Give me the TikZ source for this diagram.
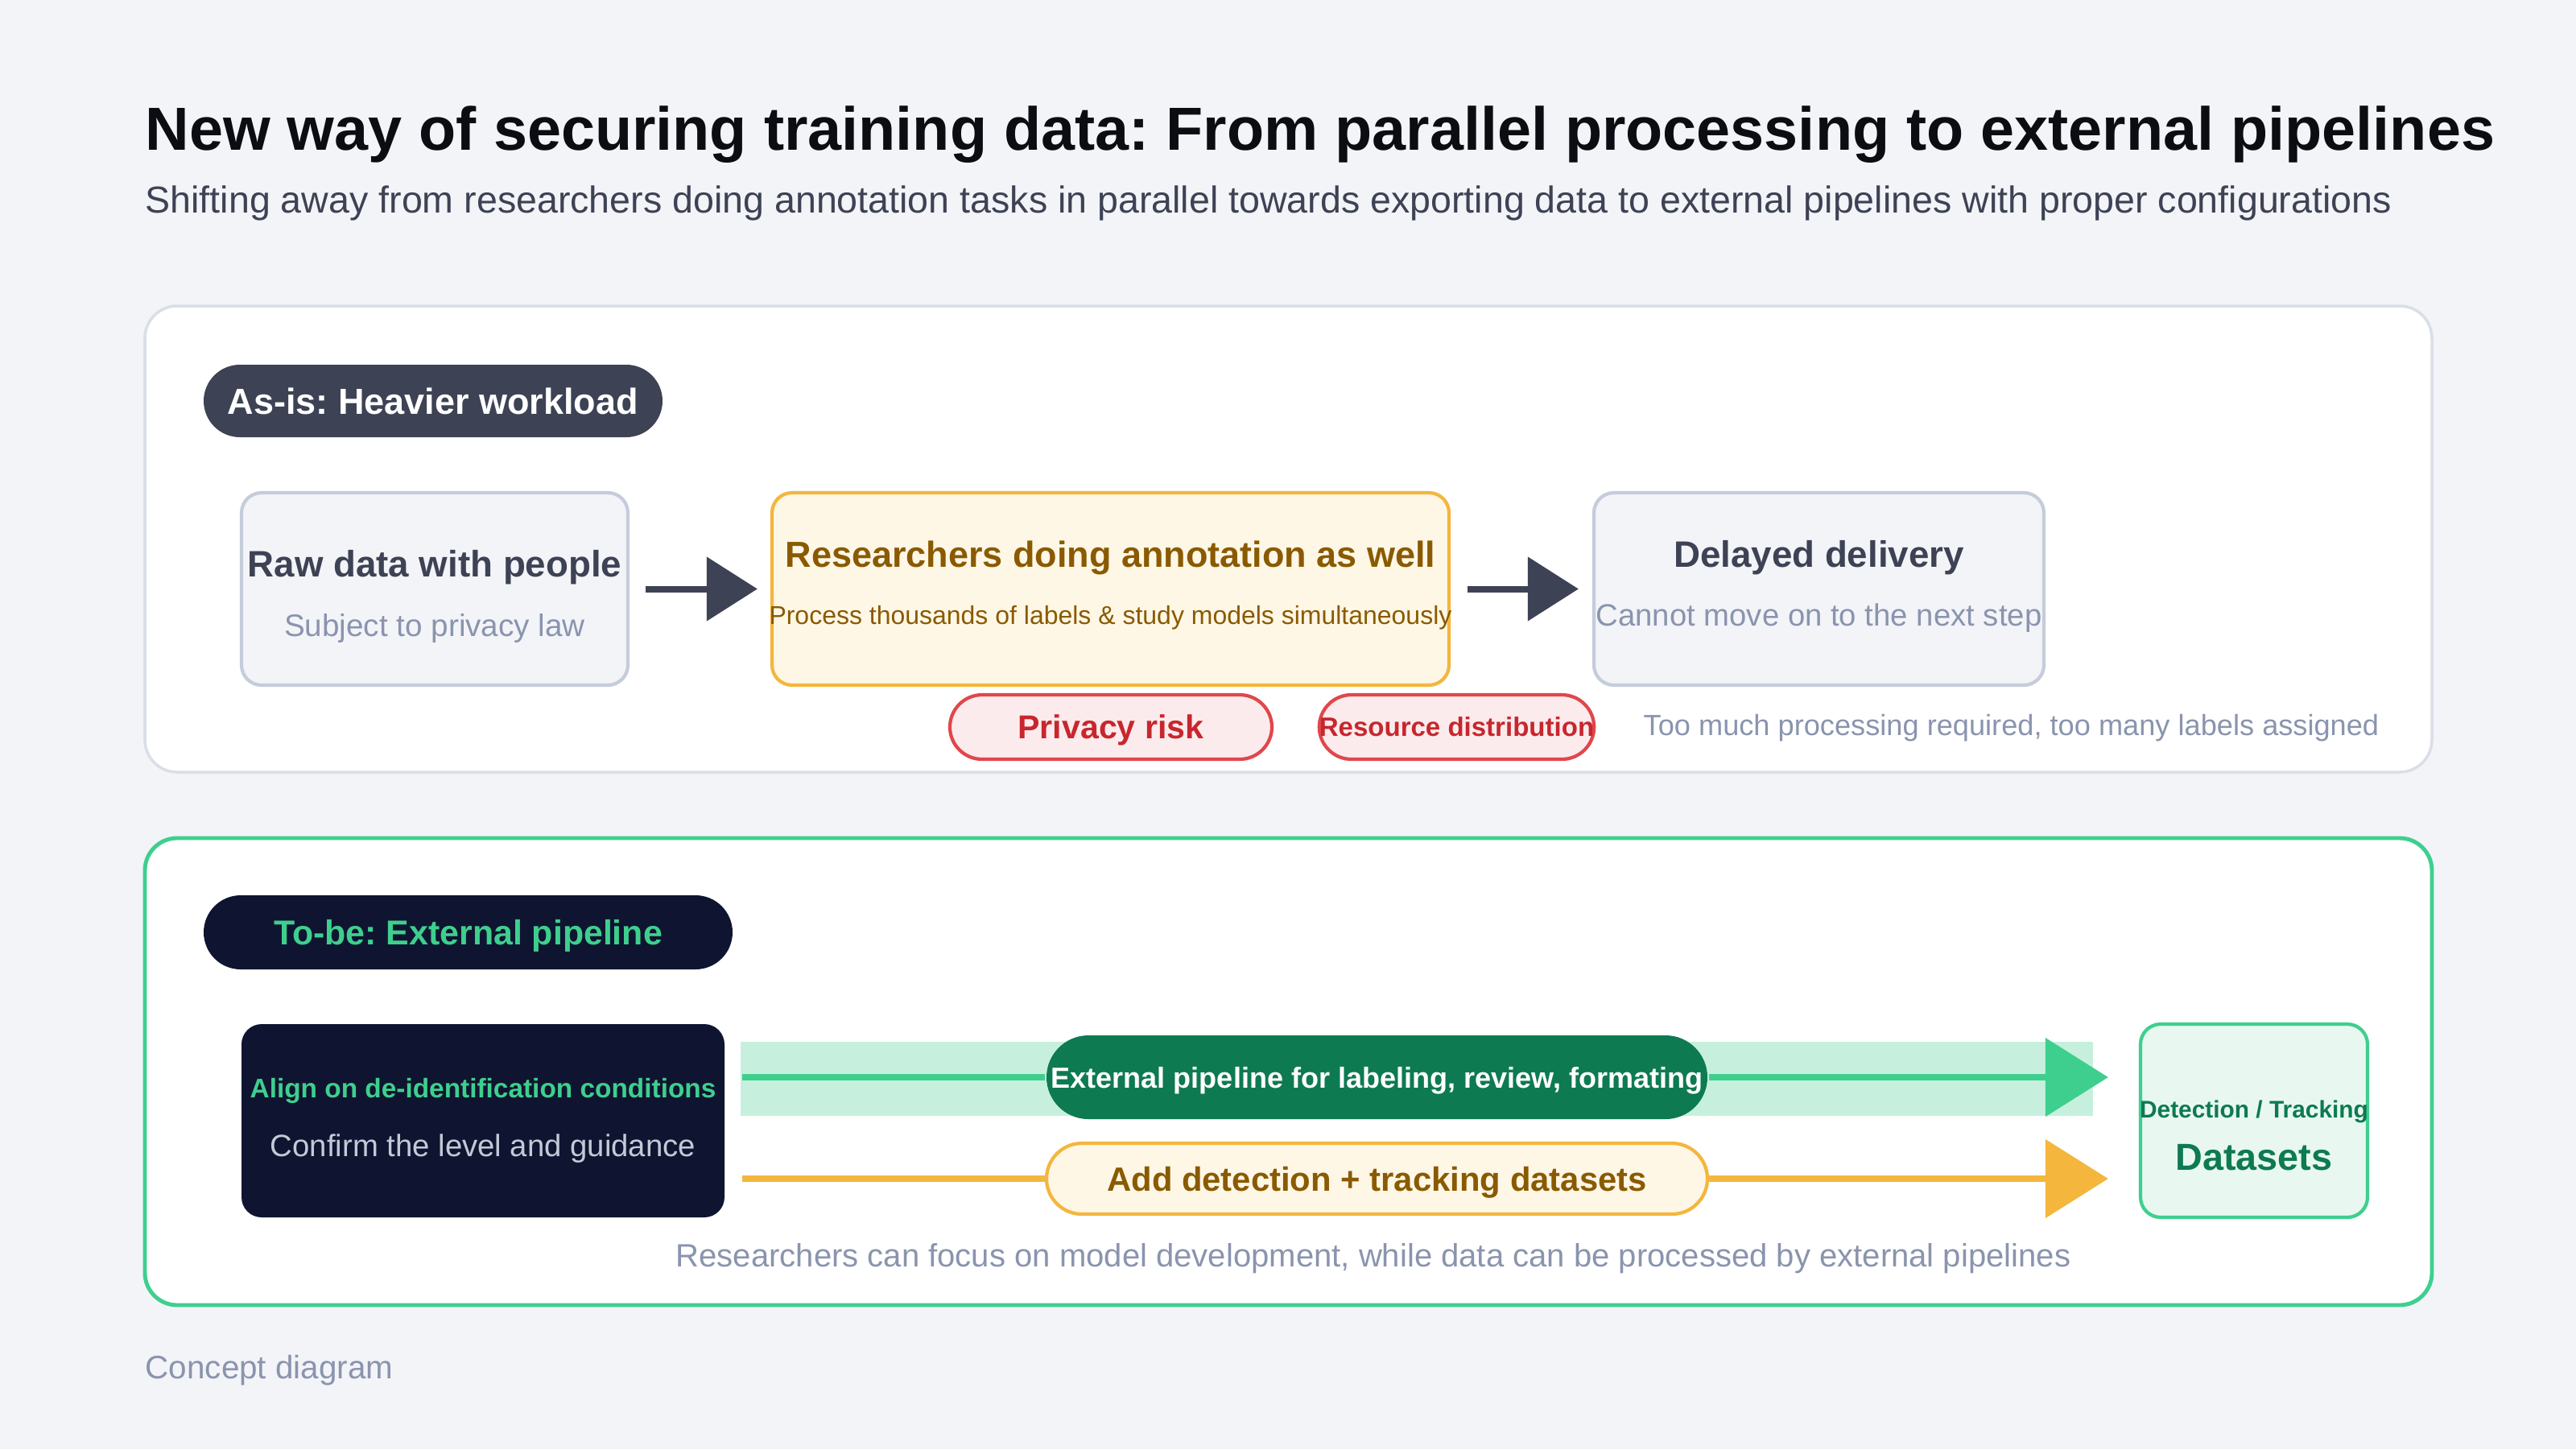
\documentclass[tikz,border=0pt]{standalone}
\usepackage{fontspec}
\setmainfont{Liberation Sans}
\usetikzlibrary{arrows.meta, positioning}

\definecolor{bgc}{HTML}{F3F4F8}
\definecolor{ink}{HTML}{0B0D12}
\definecolor{slate}{HTML}{3D4254}
\definecolor{mute}{HTML}{8A94AE}
\definecolor{panelline}{HTML}{D9DEE7}
\definecolor{grayline}{HTML}{C5CCDA}
\definecolor{amber}{HTML}{F4B63D}
\definecolor{cream}{HTML}{FFF7E6}
\definecolor{brown}{HTML}{8A5A00}
\definecolor{redline}{HTML}{E0474C}
\definecolor{redfill}{HTML}{FCEBEC}
\definecolor{redtext}{HTML}{C8262E}
\definecolor{mint}{HTML}{3ECF8E}
\definecolor{forest}{HTML}{0E7A52}
\definecolor{band}{HTML}{C6F0DD}
\definecolor{datafill}{HTML}{E8F8F0}
\definecolor{navy}{HTML}{0F1530}
\definecolor{fog}{HTML}{C4C9D8}

\newcommand{\fsz}[1]{\fontsize{#1}{#1}\selectfont}
\frenchspacing

\tikzset{
	badge/.style={rounded corners=0.45cm, minimum height=0.9cm, inner sep=0, text depth=0pt, font=\fsz{12.8}\bfseries},
	box/.style={rounded corners=0.25cm, line width=1.2pt, minimum height=2.39cm, inner sep=0},
	graybox/.style={box, draw=grayline, fill=bgc},
	hd/.style={inner sep=0, text depth=0pt, font=\fsz{13}\bfseries},
	txt/.style={inner sep=0, text depth=0pt, font=\fsz{10.9}},
	pill/.style={rounded corners=0.4cm, line width=1.2pt, minimum height=0.8cm, inner sep=0, text depth=0pt, font=\fsz{11.7}\bfseries},
	flow/.style={line width=0.08cm, -{Triangle[length=0.63cm,width=0.78cm]}},
	pipe/.style={line width=0.085cm},
	bigtip/.style={-{Triangle[length=0.78cm,width=0.96cm]}}
}

\begin{document}
\begin{tikzpicture}
	\fill[bgc] (0,0) rectangle (32,-18);
	\useasboundingbox (0,0) rectangle (32,-18);
	
	\node[anchor=base west, inner sep=0, font=\fsz{21.5}\bfseries, text=ink] (title) at (1.8,-1.86) {New way of securing training data: From parallel processing to external pipelines};
	\node[anchor=base west, inner sep=0, font=\fsz{13.25}, text=slate] (sub) at (1.8,-2.64) {Shifting away from researchers doing annotation tasks in parallel towards exporting data to external pipelines with proper configurations};
	
	\draw[panelline, line width=1pt, fill=white, rounded corners=0.4cm] (1.8,-3.8) rectangle (30.21,-9.59);
	\node[badge, fill=slate, text=white, minimum width=5.7cm] (asis) at (5.38,-4.98) {As-is: Heavier workload};
	
	\node[graybox, minimum width=4.8cm] (raw) at (5.4,-7.315) {};
	\node[hd, text=slate] (rawT) at (5.4,-7.0) {Raw data with people};
	\node[txt, font=\fsz{11}, text=mute] (rawS) at (5.4,-7.76) {Subject to privacy law};
	
	\node[box, draw=amber, fill=cream, minimum width=8.41cm] (annot) at (13.795,-7.315) {};
	\node[hd, font=\fsz{12.8}\bfseries, text=brown] (annotT) at (13.795,-6.88) {Researchers doing annotation as well};
	\node[txt, font=\fsz{9.1}, text=brown] (annotS) at (13.795,-7.64) {Process thousands of labels \& study models simultaneously};
	
	\node[graybox, minimum width=5.59cm] (late) at (22.595,-7.315) {};
	\node[hd, text=slate] (lateT) at (22.595,-6.88) {Delayed delivery};
	\node[txt, text=mute] (lateS) at (22.595,-7.64) {Cannot move on to the next step};
	
	\draw[flow, slate, shorten <=0.2cm, shorten >=0.16cm] (raw) -- (annot);
	\draw[flow, slate, shorten <=0.21cm, shorten >=0.17cm] (annot) -- (late);
	
	\node[pill, draw=redline, fill=redfill, text=redtext, minimum width=4cm] (risk) at (13.8,-9.03) {Privacy risk};
	\node[pill, draw=redline, fill=redfill, text=redtext, minimum width=3.41cm, font=\fsz{9.4}\bfseries] (res) at (18.095,-9.03) {Resource distribution};
	\node[txt, anchor=west, font=\fsz{10.3}, text=mute] (much) at (20.41,-9.0) {Too much processing required, too many labels assigned};
	
	\draw[mint, line width=1.4pt, fill=white, rounded corners=0.4cm] (1.8,-10.41) rectangle (30.21,-16.21);
	\node[badge, font=\fsz{12.2}\bfseries, fill=navy, text=mint, minimum width=6.57cm, minimum height=0.92cm, rounded corners=0.46cm] (tobe) at (5.815,-11.58) {To-be: External pipeline};
	
	\node[box, fill=navy, minimum width=6cm, minimum height=2.4cm] (align) at (6,-13.92) {};
	\node[hd, font=\fsz{9.5}\bfseries, text=mint] (alignT) at (6,-13.51) {Align on de-identification conditions};
	\node[txt, text=fog] (alignS) at (6,-14.23) {Confirm the level and guidance};
	
	\fill[band] (9.2,-12.94) rectangle (26.0,-13.86);
	
	\node[box, draw=mint, fill=datafill, minimum width=2.82cm, minimum height=2.4cm] (data) at (28,-13.92) {};
	\node[hd, font=\fsz{8.5}\bfseries, text=forest] (dataT) at (28,-13.78) {Detection / Tracking};
	\node[hd, font=\fsz{13.3}\bfseries, text=forest] (dataS) at (28,-14.37) {Datasets};
	
	\node[pill, fill=forest, text=white, minimum width=8.21cm, minimum height=1.04cm, rounded corners=0.52cm, font=\fsz{10.25}\bfseries] (ext) at (17.105,-13.38) {External pipeline for labeling, review, formating};
	\node[pill, draw=amber, fill=cream, text=brown, minimum width=8.21cm, minimum height=0.88cm, rounded corners=0.44cm, font=\fsz{11.9}\bfseries] (add) at (17.105,-14.64) {Add detection + tracking datasets};
	
	\draw[pipe, mint, shorten <=0.2cm] (align.east |- ext.west) -- (ext.west);
	\draw[pipe, mint, bigtip, shorten >=0.38cm] (ext.east) -- (data.west |- ext.east);
	\draw[pipe, amber, shorten <=0.2cm] (align.east |- add.west) -- (add.west);
	\draw[pipe, amber, bigtip, shorten >=0.38cm] (add.east) -- (data.west |- add.east);
	
	\node[txt, font=\fsz{11.4}, text=mute] (focus) at (17.06,-15.59) {Researchers can focus on model development, while data can be processed by external pipelines};
	\node[txt, anchor=west, font=\fsz{11.5}, text=mute] (foot) at (1.8,-16.98) {Concept diagram};
\end{tikzpicture}
\end{document}
